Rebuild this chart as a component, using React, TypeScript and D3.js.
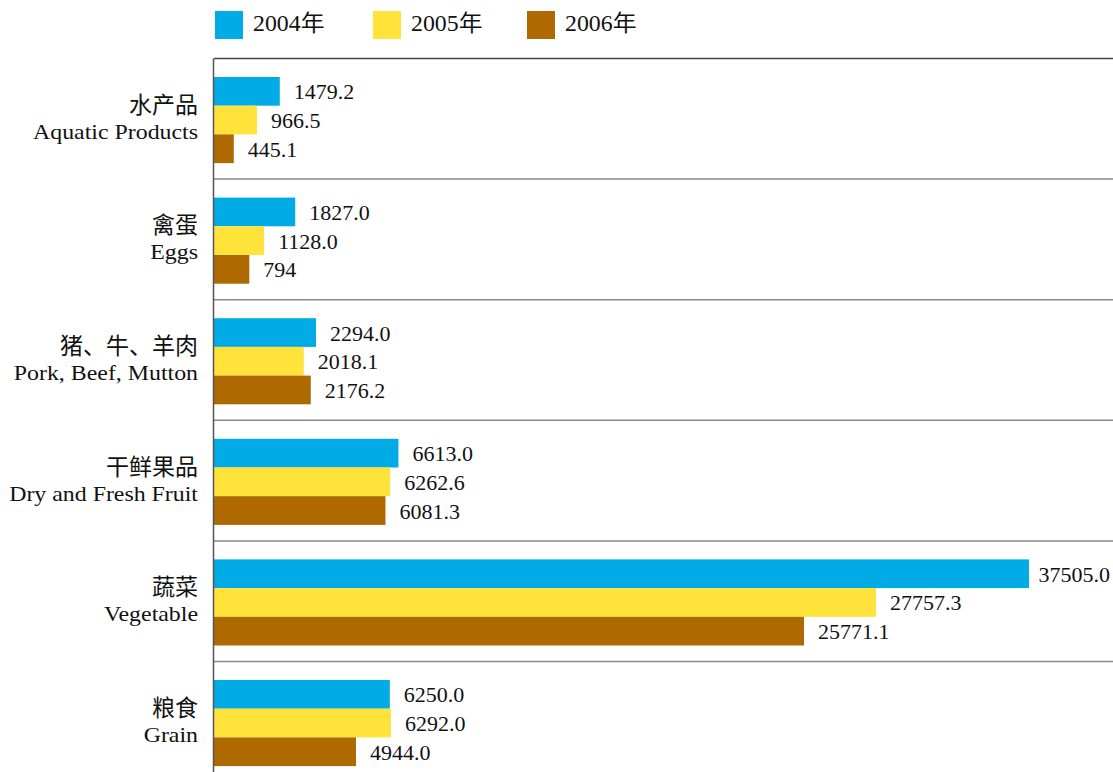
import React from "react";
import * as d3 from "d3";

const categoriesZh = ["水产品", "禽蛋", "猪、牛、羊肉", "干鲜果品", "蔬菜", "粮食"];
const categoriesEn = ["Aquatic Products", "Eggs", "Pork, Beef, Mutton", "Dry and Fresh Fruit", "Vegetable", "Grain"];
const seriesNames = ["2004年", "2005年", "2006年"];
const values2004 = [1479.2, 1827.0, 2294.0, 6613.0, 37505.0, 6250.0];
const values2005 = [966.5, 1128.0, 2018.1, 6262.6, 27757.3, 6292.0];
const values2006 = [445.1, 794, 2176.2, 6081.3, 25771.1, 4944.0];
const labels2004 = ["1479.2", "1827.0", "2294.0", "6613.0", "37505.0", "6250.0"];
const labels2005 = ["966.5", "1128.0", "2018.1", "6262.6", "27757.3", "6292.0"];
const labels2006 = ["445.1", "794", "2176.2", "6081.3", "25771.1", "4944.0"];
const colors = ["#00ABE6", "#FFE33B", "#AE6A00"];

const W = 1113;
const H = 772;
const X0 = 214;
const TOP = 58.5;
const BAND = 120.6;

const serif = "'Liberation Serif', 'Times New Roman', 'Noto Sans CJK SC', serif";
const cjk = "'Noto Sans CJK SC', 'Liberation Serif', serif";

export default function App() {
  const series = [values2004, values2005, values2006];
  const labels = [labels2004, labels2005, labels2006];

  // the original chart uses a non-uniform value axis; reproduce it piecewise
  const x = d3
    .scaleLinear()
    .domain([0, 2294, 4944, 6450, 25771, 27757, 37505])
    .range([X0, X0 + 102, X0 + 142, X0 + 181, X0 + 590, X0 + 662, X0 + 815]);

  const y = d3
    .scaleBand<number>()
    .domain(d3.range(categoriesZh.length))
    .range([TOP, TOP + BAND * categoriesZh.length])
    .padding(0);

  const inner = d3
    .scaleBand<number>()
    .domain(d3.range(seriesNames.length))
    .range([18.5, 18.5 + 86.1])
    .padding(0);

  const legendX = [215, 373, 527];

  return (
    <div style={{ position: "absolute", left: 0, top: 0 }}>
      <svg width={W} height={H} style={{ display: "block", background: "#fff" }}>
        {/* legend */}
        {seriesNames.map((s, i) => (
          <g key={s}>
            <rect x={legendX[i]} y={11} width={28} height={28} fill={colors[i]} />
            <g transform={`translate(${legendX[i] + 38},31) scale(1.06,1)`}>
              <text x={0} y={0} fontSize={22.5} fontFamily={serif} fill="#111">
                {s}
              </text>
            </g>
          </g>
        ))}

        {/* separators */}
        {d3.range(1, categoriesZh.length).map((i) => (
          <line key={i} x1={X0} x2={W} y1={y(i)!} y2={y(i)!} stroke="#8a8a8a" strokeWidth={1.5} />
        ))}
        <line x1={X0} x2={W} y1={TOP} y2={TOP} stroke="#444" strokeWidth={1.5} />

        {/* bars */}
        {categoriesZh.map((c, ci) => (
          <g key={c} transform={`translate(0,${y(ci)})`}>
            {series.map((vals, si) => {
              const by = inner(si)!;
              const bh = inner.bandwidth();
              const end = x(vals[ci]);
              const lbl = labels[si][ci];
              const approxW = lbl.length * 10.5;
              const overflow = end + 14 + approxW > W - 2;
              return (
                <g key={si}>
                  <rect x={X0} y={by} width={end - X0} height={bh} fill={colors[si]} />
                  <text
                    x={overflow ? W - 3 : end + 14}
                    y={by + bh / 2 + 8}
                    textAnchor={overflow ? "end" : "start"}
                    fontSize={22}
                    fontFamily={serif}
                    fill="#111"
                  >
                    {lbl}
                  </text>
                </g>
              );
            })}
            <text
              x={198}
              y={BAND / 2 - 6}
              textAnchor="end"
              fontSize={23}
              fontFamily={cjk}
              fill="#111"
            >
              {c}
            </text>
            <g transform={`translate(198,${BAND / 2 + 20}) scale(1.085,1)`}>
              <text x={0} y={0} textAnchor="end" fontSize={22} fontFamily={serif} fill="#111">
                {categoriesEn[ci]}
              </text>
            </g>
          </g>
        ))}

        {/* axis */}
        <line x1={X0 - 0.5} x2={X0 - 0.5} y1={TOP} y2={H} stroke="#555" strokeWidth={1.5} />
      </svg>
    </div>
  );
}
